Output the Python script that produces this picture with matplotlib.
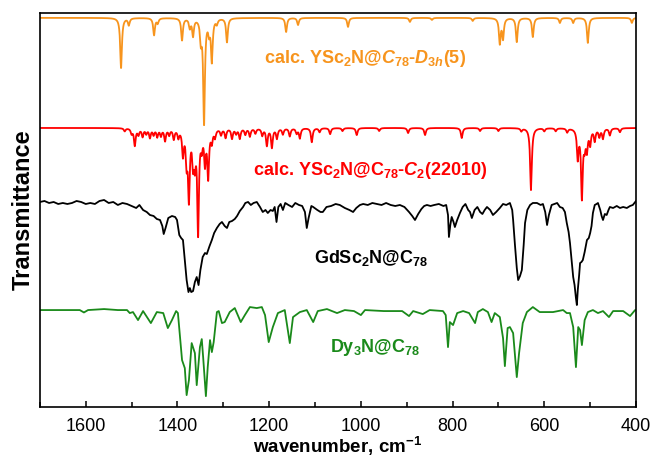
import numpy as np
import matplotlib
matplotlib.use('Agg')
import matplotlib.pyplot as plt
from matplotlib.ticker import MultipleLocator

# calculated stick spectra: peak position [cm-1] and depth (transmittance drop)
orange_pos = [1523, 1506, 1451, 1443, 1390, 1373, 1366, 1349, 1342, 1331, 1325, 1314, 1292,
              1163, 1137, 1028, 893, 845, 756, 697, 690, 660, 625, 566, 537, 505, 409]
orange_depth = [0.25, 0.035, 0.085, 0.025, 0.11, 0.045, 0.085, 0.10, 0.52, 0.06, 0.21, 0.025, 0.12,
                0.07, 0.035, 0.045, 0.02, 0.01, 0.015, 0.125, 0.10, 0.12, 0.095, 0.025, 0.025, 0.125, 0.025]

red_pos = [1515, 1500, 1493, 1485, 1476, 1468, 1460, 1452, 1444, 1436, 1427, 1418, 1408, 1398,
           1388, 1380, 1375, 1366, 1362, 1355, 1347, 1340, 1333, 1325, 1318, 1305, 1295, 1281,
           1272, 1264, 1252, 1242, 1230, 1215, 1205, 1194, 1183, 1170, 1155, 1140, 1133, 1107,
           1090, 1067, 1040, 1009, 960, 897, 860, 780, 740, 700, 650, 629, 600, 575, 550, 527,
           518, 512, 507, 500, 490, 480, 472, 457, 435]
red_depth = [0.015, 0.025, 0.085, 0.03, 0.04, 0.025, 0.045, 0.03, 0.04, 0.035, 0.06, 0.03, 0.05, 0.04,
             0.125, 0.15, 0.335, 0.15, 0.14, 0.51, 0.075, 0.16, 0.235, 0.06, 0.04, 0.03, 0.045, 0.05,
             0.025, 0.05, 0.03, 0.04, 0.025, 0.035, 0.085, 0.095, 0.05, 0.03, 0.04, 0.025, 0.05, 0.07,
             0.02, 0.03, 0.015, 0.035, 0.015, 0.025, 0.035, 0.05, 0.015, 0.015, 0.015, 0.31, 0.015,
             0.015, 0.02, 0.145, 0.34, 0.075, 0.1, 0.075, 0.06, 0.04, 0.05, 0.035, 0.02]

black_wn = [1700, 1690, 1680, 1670, 1660, 1650, 1640, 1630, 1620, 1610, 1600, 1590, 1580, 1570,
            1560, 1550, 1540, 1530, 1520, 1510, 1500, 1490, 1483, 1475, 1467, 1460, 1452, 1445,
            1438, 1433, 1430, 1426, 1420, 1412, 1405, 1401, 1396, 1392, 1388, 1384, 1380, 1376,
            1373, 1370, 1366, 1362, 1358, 1354, 1350, 1345, 1340, 1336, 1330, 1325, 1320, 1314,
            1308, 1303, 1297, 1292, 1287, 1281, 1275, 1270, 1264, 1257, 1252, 1246, 1240, 1234,
            1227, 1220, 1214, 1208, 1203, 1197, 1192, 1188, 1184, 1180, 1175, 1170, 1165, 1158,
            1150, 1143, 1135, 1128, 1122, 1118, 1114, 1108, 1104, 1095, 1088, 1083, 1075, 1065,
            1055, 1046, 1035, 1025, 1017, 1010, 1002, 995, 985, 975, 965, 955, 945, 935,
            925, 915, 905, 895, 888, 882, 875, 868, 862, 856, 848, 840, 830, 820,
            814, 810, 808, 805, 802, 798, 795, 790, 784, 778, 772, 766, 762, 758,
            752, 746, 740, 735, 730, 725, 718, 712, 705, 697, 690, 683, 675, 670,
            668, 664, 660, 657, 653, 649, 645, 642, 637, 631, 625, 616, 608, 603,
            598, 594, 590, 584, 578, 572, 566, 560, 555, 551, 547, 544, 540, 537,
            534, 531, 529, 527, 524, 522, 519, 516, 512, 507, 503, 500, 497, 494,
            490, 486, 483, 478, 475, 472, 468, 464, 460, 457, 450, 442, 435, 428,
            420, 413, 407, 400]
black_t = [1.005, 1.01, 1.0, 1.005, 0.995, 1.0, 0.995, 1.0, 1.01, 1.005, 0.995, 1.0, 0.995, 1.01,
           1.015, 1.0, 1.005, 0.99, 1.0, 0.995, 0.985, 0.975, 0.99, 0.965, 0.955, 0.94, 0.935, 0.92,
           0.915, 0.885, 0.845, 0.875, 0.925, 0.935, 0.93, 0.915, 0.84, 0.825, 0.815, 0.715, 0.615, 0.555,
           0.575, 0.555, 0.56, 0.605, 0.63, 0.59, 0.665, 0.73, 0.75, 0.745, 0.785, 0.815, 0.85, 0.875,
           0.895, 0.905, 0.885, 0.875, 0.905, 0.91, 0.92, 0.935, 0.96, 0.98, 1.0, 1.005, 0.99, 1.0,
           1.005, 0.98, 0.955, 0.965, 0.95, 0.965, 0.96, 0.98, 0.905, 0.98, 0.995, 0.965, 1.0, 0.99,
           0.98, 1.0, 0.99, 0.985, 0.955, 0.875, 0.925, 0.985, 0.98, 0.965, 0.955, 0.955, 0.98, 0.985,
           0.995, 0.99, 0.975, 0.965, 0.955, 0.975, 0.99, 0.995, 0.99, 1.0, 0.995, 0.99, 1.0, 0.99,
           0.985, 0.99, 0.98, 0.955, 0.935, 0.915, 0.945, 0.97, 0.985, 0.99, 0.985, 0.99, 0.995, 0.985,
           0.99, 0.94, 0.83, 0.89, 0.93, 0.905, 0.88, 0.915, 0.95, 0.98, 0.995, 0.965, 0.955, 0.925,
           0.965, 0.98, 0.955, 0.945, 0.965, 0.98, 0.965, 0.94, 0.955, 0.975, 0.995, 0.99, 1.0, 0.965,
           0.915, 0.79, 0.675, 0.615, 0.635, 0.665, 0.79, 0.90, 0.965, 0.99, 1.0, 1.0, 0.99, 0.995,
           0.955, 0.89, 0.94, 0.99, 0.995, 1.0, 0.98, 0.975, 0.955, 0.90, 0.855, 0.80, 0.705, 0.63,
           0.59, 0.525, 0.49, 0.565, 0.64, 0.70, 0.705, 0.715, 0.755, 0.815, 0.825, 0.85, 0.885, 0.95,
           0.99, 0.995, 1.0, 0.965, 0.935, 0.915, 0.945, 0.94, 0.965, 0.98, 0.975, 0.985, 0.975, 0.98,
           0.975, 0.985, 0.99, 1.01]

green_wn = [1700, 1650, 1613, 1604, 1595, 1560, 1530, 1510, 1504, 1497, 1486, 1475, 1458, 1445,
            1431, 1421, 1412, 1403, 1399, 1390, 1384, 1380, 1375, 1369, 1362, 1358, 1351, 1347,
            1344, 1338, 1334, 1329, 1325, 1321, 1314, 1310, 1303, 1297, 1286, 1275, 1262, 1253,
            1242, 1227, 1216, 1209, 1201, 1192, 1181, 1166, 1155, 1148, 1133, 1118, 1104, 1094,
            1074, 1052, 1035, 1015, 1000, 991, 950, 910, 895, 886, 865, 850, 821, 815,
            810, 806, 799, 790, 777, 764, 751, 745, 734, 723, 715, 708, 697, 690,
            686, 680, 675, 668, 660, 655, 647, 638, 625, 610, 594, 581, 559, 551,
            544, 537, 531, 526, 522, 518, 512, 505, 494, 483, 472, 459, 450, 428,
            413, 402, 400]
green_t = [1.0, 1.0, 1.0, 0.988, 1.0, 1.005, 1.0, 1.0, 0.985, 0.99, 0.95, 0.995, 0.935, 0.99,
           0.985, 0.91, 0.95, 0.995, 0.985, 0.75, 0.71, 0.575, 0.65, 0.835, 0.785, 0.625, 0.815, 0.855,
           0.765, 0.57, 0.715, 0.85, 0.79, 0.84, 0.99, 0.995, 0.935, 0.94, 0.99, 1.01, 0.94, 0.975,
           1.015, 1.01, 1.015, 0.975, 0.84, 0.915, 0.985, 1.0, 0.835, 0.965, 0.99, 1.0, 0.94, 0.995,
           1.005, 0.985, 1.0, 0.995, 0.975, 1.0, 0.995, 0.995, 0.97, 0.995, 0.98, 1.0, 0.995, 0.975,
           0.815, 0.94, 0.925, 0.985, 0.995, 0.985, 0.935, 0.99, 1.005, 0.99, 0.94, 0.985, 0.965, 0.86,
           0.72, 0.91, 0.915, 0.885, 0.665, 0.785, 0.935, 0.99, 1.015, 0.99, 0.99, 0.99, 1.0, 0.985,
           0.985, 0.915, 0.715, 0.915, 0.90, 0.825, 0.95, 0.99, 1.0, 0.985, 0.995, 0.965, 0.995, 0.995,
           0.97, 1.0, 1.0]

labels = [r'calc. YSc$_2$N@$C_{78}$-$D_{3h}$(5)',
          r'calc. YSc$_2$N@C$_{78}$-$C_2$(22010)',
          r'GdSc$_2$N@C$_{78}$',
          r'Dy$_3$N@C$_{78}$']
colors = ['#f7941d', '#ff0000', '#000000', '#1a8a1a']


def broaden(grid, centers, depths, hwhm=2.2):
    t = np.ones_like(grid)
    for c, d in zip(centers, depths):
        t -= d / (1 + ((grid - c) / hwhm) ** 2)
    return t


def main():
    plt.rcParams['font.family'] = ['Liberation Sans', 'DejaVu Sans']
    plt.rcParams['mathtext.fontset'] = 'custom'
    plt.rcParams['mathtext.rm'] = 'Liberation Sans:bold'
    plt.rcParams['mathtext.it'] = 'Liberation Sans:italic:bold'
    plt.rcParams['mathtext.bf'] = 'Liberation Sans:bold'

    fig = plt.figure(figsize=(6.54, 4.59), dpi=100)
    ax = fig.add_axes([0.061, 0.113, 0.9115, 0.859])

    grid = np.linspace(400, 1700, 5201)
    offsets = [0.945, 0.395, 0.02, -0.515]
    curves = [
        (grid, broaden(grid, orange_pos, orange_depth)),
        (grid, broaden(grid, red_pos, red_depth)),
        (np.array(black_wn), np.array(black_t)),
        (np.array(green_wn), np.array(green_t)),
    ]
    for (x, t), off, col in zip(curves, offsets, colors):
        ax.plot(x, t + off, color=col, lw=1.3)

    # label positions: wavenumber, height
    label_xy = [(991, 1.72), (980, 1.16), (978, 0.72), (970, 0.275)]
    for (lx, ly), txt, col in zip(label_xy, labels, colors):
        ax.text(lx, ly, txt, color=col, fontsize=13, fontweight='bold', ha='center', va='baseline')

    ax.set_xlim(1700, 400)
    ax.set_ylim(0, 1.97)
    ax.xaxis.set_major_locator(MultipleLocator(200))
    ax.xaxis.set_minor_locator(MultipleLocator(100))
    ax.tick_params(axis='x', which='both', direction='in', top=False, labelsize=13, pad=8)
    ax.tick_params(axis='x', which='major', length=4.5, width=1.1)
    ax.tick_params(axis='x', which='minor', length=3.5, width=1.1)
    ax.set_yticks([])
    for s in ax.spines.values():
        s.set_linewidth(1.2)
    ax.set_xlabel(r'wavenumber, cm$^{-1}$', fontsize=13.5, fontweight='bold', labelpad=0)
    ax.set_ylabel('Transmittance', fontsize=17, fontweight='bold', labelpad=4)

    fig.savefig('out.png', dpi=100)


if __name__ == '__main__':
    main()
